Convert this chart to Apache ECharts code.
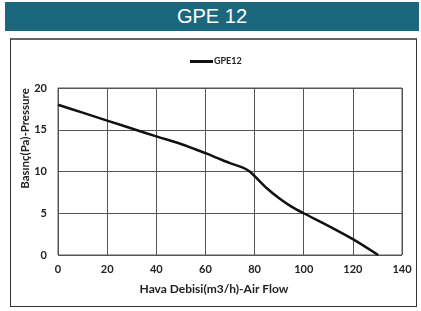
<!DOCTYPE html>
<html lang="tr">
<head>
<meta charset="UTF-8">
<title>GPE 12</title>
<script src="https://cdn.jsdelivr.net/npm/echarts@6/dist/echarts.min.js"></script>
<style>
    body { margin: 0; width: 421px; height: 311px; background: #fff; position: relative; overflow: hidden; }
    #header {
        position: absolute; left: 5px; top: 2px; width: 414px; height: 29px;
        background: #1b677d; color: #fff; font-family: Arial, "Liberation Sans", sans-serif;
        font-size: 20px; line-height: 29px; text-align: center;
    }
    #frame {
        position: absolute; left: 10px; top: 38px; width: 407px; height: 269px;
        border: 1px solid #333; border-top: 2px solid #666; box-sizing: border-box;
    }
    #chart { position: absolute; left: 0; top: 0; width: 421px; height: 311px; }
</style>
</head>
<body>
<div id="header">GPE 12</div>
<div id="frame"></div>
<div id="chart"></div>
<script>
// air flow (m3/h) vs pressure (Pa)
const flow     = [0, 10, 20, 30, 40, 50, 60, 65, 70, 75, 78, 85, 90, 95, 100, 110, 120, 130.3];
const pressure = [18, 17.05, 16.1, 15.15, 14.2, 13.3, 12.2, 11.6, 11.0, 10.5, 10.0, 8.0, 6.8, 5.8, 5.0, 3.5, 1.9, 0];
const seriesName = 'GPE12';

const font = 'Lato, "Open Sans", sans-serif';
const chart = echarts.init(document.getElementById('chart'));
chart.setOption({
    animation: false,
    legend: {
        top: 57, left: 190, padding: 0,
        itemWidth: 23, itemHeight: 3, itemGap: 1,
        icon: 'rect',
        textStyle: { fontFamily: font, fontSize: 9, fontWeight: 'bold', color: '#222', padding: [0, 0, 0, -4] },
        data: [seriesName]
    },
    grid: { left: 58, top: 88, right: 19, bottom: 56, show: true, borderColor: '#555', borderWidth: 1 },
    xAxis: {
        type: 'value', min: 0, max: 140, interval: 20,
        name: 'Hava Debisi(m3/h)-Air Flow', nameLocation: 'middle', nameGap: 28,
        nameTextStyle: { fontFamily: font, fontSize: 12, fontWeight: 'bold', color: '#222', padding: [0, 32, 0, 0] },
        axisLine: { show: false }, axisTick: { show: false },
        axisLabel: { fontFamily: font, fontSize: 11, fontWeight: 'bold', color: '#222', margin: 9 },
        splitLine: { lineStyle: { color: '#555', width: 1 } }
    },
    yAxis: {
        type: 'value', min: 0, max: 20, interval: 5,
        name: 'Basınç(Pa)-Pressure', nameLocation: 'middle', nameGap: 27, nameMoveOverlap: false,
        nameTextStyle: { fontFamily: font, fontSize: 11.5, fontWeight: 'bold', color: '#222', padding: [0, 0, 0, 66] },
        axisLine: { show: false }, axisTick: { show: false },
        axisLabel: { fontFamily: font, fontSize: 11, fontWeight: 'bold', color: '#222', margin: 11 },
        splitLine: { lineStyle: { color: '#555', width: 1 } }
    },
    series: [{
        name: seriesName, type: 'line', smooth: 0.3, showSymbol: false,
        data: flow.map((f, i) => [f, pressure[i]]),
        lineStyle: { color: '#111', width: 2.5 },
        itemStyle: { color: '#111' }
    }]
});
</script>
</body>
</html>
